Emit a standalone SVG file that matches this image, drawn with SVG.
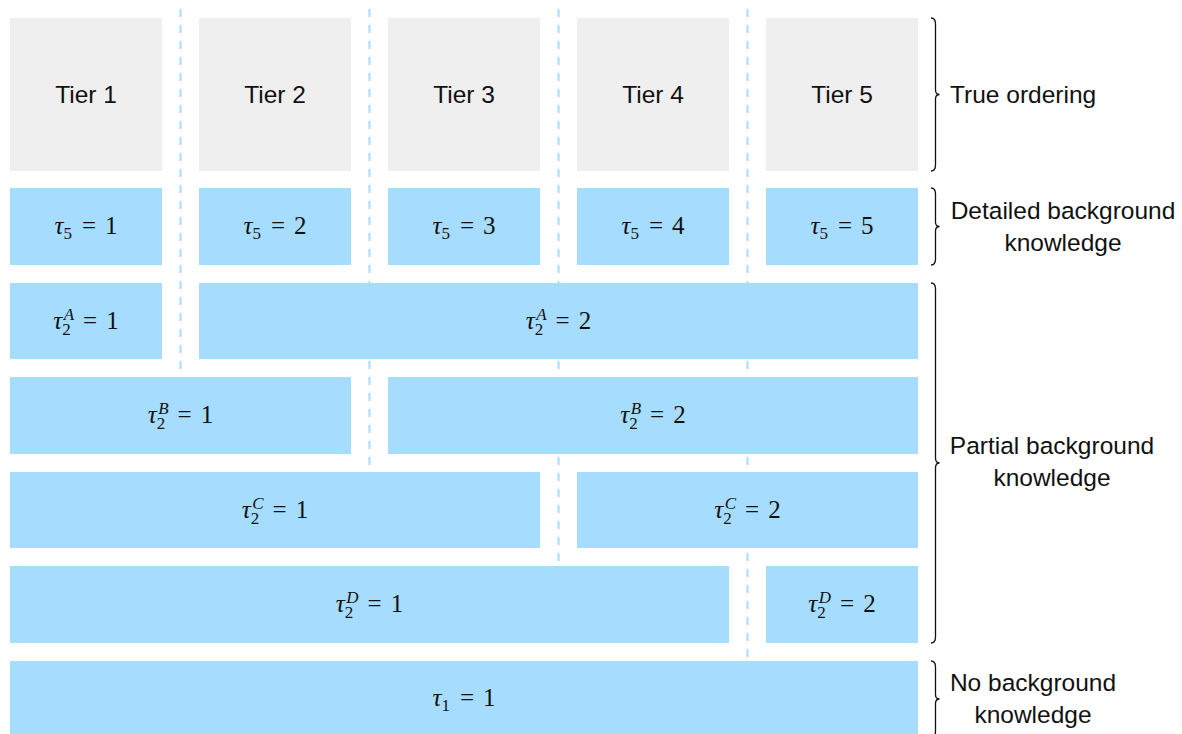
<svg xmlns="http://www.w3.org/2000/svg" width="1182" height="734" viewBox="0 0 1182 734">
<style>
.tier{fill:#efefef}
.b{fill:#a6dcfe}
.t{font-family:"Liberation Sans",Arial,sans-serif;font-size:24.5px;fill:#111}
.c{text-anchor:middle}
.m{font-family:"Liberation Serif","Times New Roman",serif;font-size:25px;fill:#111;text-anchor:middle}
.i{font-style:italic}
.s{font-size:17px}
.dash{stroke:#a6dcfe;stroke-width:2;stroke-dasharray:8 8;fill:none}
.br{stroke:#111;stroke-width:1.3;fill:none}
</style>
<rect width="1182" height="734" fill="#fff"/>
<g id="connectors">
<line class="dash" x1="180.5" y1="9" x2="180.5" y2="369"/>
<line class="dash" x1="369.5" y1="9" x2="369.5" y2="465"/>
<line class="dash" x1="558.5" y1="9" x2="558.5" y2="561"/>
<line class="dash" x1="747.5" y1="9" x2="747.5" y2="657"/>
</g>
<g id="tier1"><rect class="tier" x="10" y="18" width="152" height="153"/><text class="t c" x="86" y="103">Tier 1</text></g>
<g id="tier2"><rect class="tier" x="199" y="18" width="152" height="153"/><text class="t c" x="275" y="103">Tier 2</text></g>
<g id="tier3"><rect class="tier" x="388" y="18" width="152" height="153"/><text class="t c" x="464" y="103">Tier 3</text></g>
<g id="tier4"><rect class="tier" x="577" y="18" width="152" height="153"/><text class="t c" x="653" y="103">Tier 4</text></g>
<g id="tier5"><rect class="tier" x="766" y="18" width="152" height="153"/><text class="t c" x="842" y="103">Tier 5</text></g>

<g id="t5_1"><rect class="b" x="10" y="188" width="152" height="77"/><text class="m" x="86" y="234"><tspan class="i">τ</tspan><tspan class="s" dy="5">5</tspan><tspan dy="-5" dx="10">=</tspan><tspan dx="9">1</tspan></text></g>
<g id="t5_2"><rect class="b" x="199" y="188" width="152" height="77"/><text class="m" x="275" y="234"><tspan class="i">τ</tspan><tspan class="s" dy="5">5</tspan><tspan dy="-5" dx="10">=</tspan><tspan dx="9">2</tspan></text></g>
<g id="t5_3"><rect class="b" x="388" y="188" width="152" height="77"/><text class="m" x="464" y="234"><tspan class="i">τ</tspan><tspan class="s" dy="5">5</tspan><tspan dy="-5" dx="10">=</tspan><tspan dx="9">3</tspan></text></g>
<g id="t5_4"><rect class="b" x="577" y="188" width="152" height="77"/><text class="m" x="653" y="234"><tspan class="i">τ</tspan><tspan class="s" dy="5">5</tspan><tspan dy="-5" dx="10">=</tspan><tspan dx="9">4</tspan></text></g>
<g id="t5_5"><rect class="b" x="766" y="188" width="152" height="77"/><text class="m" x="842" y="234"><tspan class="i">τ</tspan><tspan class="s" dy="5">5</tspan><tspan dy="-5" dx="10">=</tspan><tspan dx="9">5</tspan></text></g>

<g id="tA_1"><rect class="b" x="10" y="283" width="152" height="76"/><text class="m" x="86" y="329"><tspan class="i">τ</tspan><tspan class="s" dy="6">2</tspan><tspan class="s i" dx="-7" dy="-15">A</tspan><tspan dy="9" dx="9">=</tspan><tspan dx="9">1</tspan></text></g>
<g id="tA_2"><rect class="b" x="199" y="283" width="719" height="76"/><text class="m" x="558.5" y="329"><tspan class="i">τ</tspan><tspan class="s" dy="6">2</tspan><tspan class="s i" dx="-7" dy="-15">A</tspan><tspan dy="9" dx="9">=</tspan><tspan dx="9">2</tspan></text></g>

<g id="tB_1"><rect class="b" x="10" y="377" width="341" height="77"/><text class="m" x="180.5" y="423"><tspan class="i">τ</tspan><tspan class="s" dy="6">2</tspan><tspan class="s i" dx="-7" dy="-15">B</tspan><tspan dy="9" dx="9">=</tspan><tspan dx="9">1</tspan></text></g>
<g id="tB_2"><rect class="b" x="388" y="377" width="530" height="77"/><text class="m" x="653" y="423"><tspan class="i">τ</tspan><tspan class="s" dy="6">2</tspan><tspan class="s i" dx="-7" dy="-15">B</tspan><tspan dy="9" dx="9">=</tspan><tspan dx="9">2</tspan></text></g>

<g id="tC_1"><rect class="b" x="10" y="472" width="530" height="76"/><text class="m" x="275" y="518"><tspan class="i">τ</tspan><tspan class="s" dy="6">2</tspan><tspan class="s i" dx="-7" dy="-15">C</tspan><tspan dy="9" dx="9">=</tspan><tspan dx="9">1</tspan></text></g>
<g id="tC_2"><rect class="b" x="577" y="472" width="341" height="76"/><text class="m" x="747.5" y="518"><tspan class="i">τ</tspan><tspan class="s" dy="6">2</tspan><tspan class="s i" dx="-7" dy="-15">C</tspan><tspan dy="9" dx="9">=</tspan><tspan dx="9">2</tspan></text></g>

<g id="tD_1"><rect class="b" x="10" y="566" width="719" height="77"/><text class="m" x="369.5" y="612"><tspan class="i">τ</tspan><tspan class="s" dy="6">2</tspan><tspan class="s i" dx="-7" dy="-15">D</tspan><tspan dy="9" dx="9">=</tspan><tspan dx="9">1</tspan></text></g>
<g id="tD_2"><rect class="b" x="766" y="566" width="152" height="77"/><text class="m" x="842" y="612"><tspan class="i">τ</tspan><tspan class="s" dy="6">2</tspan><tspan class="s i" dx="-7" dy="-15">D</tspan><tspan dy="9" dx="9">=</tspan><tspan dx="9">2</tspan></text></g>

<g id="t1"><rect class="b" x="10" y="661" width="908" height="76"/><text class="m" x="464" y="706"><tspan class="i">τ</tspan><tspan class="s" dy="5">1</tspan><tspan dy="-5" dx="10">=</tspan><tspan dx="9">1</tspan></text></g>

<g id="brace-true">
<path class="br" d="M931,18 Q935.5,18 935.5,24 V90 Q935.5,94.5 939.5,94.5 Q935.5,94.5 935.5,99 V165 Q935.5,171 931,171"/>
<text class="t" x="950" y="103">True ordering</text>
</g>
<g id="brace-detailed">
<path class="br" d="M931,188 Q935.5,188 935.5,194 V222 Q935.5,226.5 939.5,226.5 Q935.5,226.5 935.5,231 V259 Q935.5,265 931,265"/>
<text class="t c" x="1063" y="219">Detailed background</text>
<text class="t c" x="1063" y="251">knowledge</text>
</g>
<g id="brace-partial">
<path class="br" d="M931,283 Q935.5,283 935.5,289 V458 Q935.5,463 939.5,463 Q935.5,463 935.5,468 V637 Q935.5,643 931,643"/>
<text class="t c" x="1052" y="454">Partial background</text>
<text class="t c" x="1052" y="486">knowledge</text>
</g>
<g id="brace-none">
<path class="br" d="M931,661 Q935.5,661 935.5,667 V694.5 Q935.5,699 939.5,699 Q935.5,699 935.5,703.5 V731 Q935.5,737 931,737"/>
<text class="t c" x="1033" y="691">No background</text>
<text class="t c" x="1033" y="723">knowledge</text>
</g>
</svg>
